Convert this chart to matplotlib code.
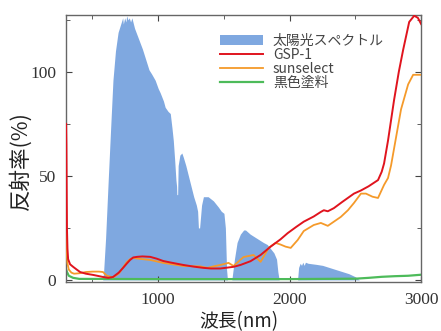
import matplotlib
matplotlib.use("Agg")
import matplotlib.pyplot as plt
from matplotlib.ticker import MultipleLocator

plt.rcParams["font.family"] = "serif"
plt.rcParams["font.serif"] = ["Liberation Serif", "DejaVu Serif"]

# Solar spectrum (scaled for display)
spec_wl = [300, 578, 585, 600, 620, 640, 656, 675, 695, 710, 720, 730, 735, 745, 755, 760, 770, 780, 790,
           800, 820, 850, 880, 905, 930, 950, 977, 1000, 1015, 1040, 1053, 1075, 1092, 1105, 1115, 1125,
           1135, 1140, 1142, 1148, 1152, 1165, 1180, 1191, 1210, 1230, 1250, 1270, 1290, 1300, 1306, 1315,
           1330, 1344, 1380, 1420, 1458, 1480, 1500, 1511, 1520, 1527, 1560, 1580, 1600, 1625, 1650, 1664,
           1700, 1750, 1800, 1830, 1855, 1880, 1900, 1910, 1920, 2060, 2068, 2080, 2090, 2100, 2110, 2120,
           2140, 2200, 2250, 2300, 2350, 2400, 2450, 2500, 2520, 2530, 3000]
spec_val = [0, 0, 4, 20, 48, 75, 96, 110, 119, 122, 124, 126, 123, 126, 124, 127, 125, 126, 124,
            126, 121, 116, 111, 106, 101, 99, 96, 92, 90, 86, 83, 81, 80, 73, 67, 58,
            48, 45, 41, 41, 55, 60, 61, 59, 55, 50, 45, 40, 36, 33, 25, 25,
            36, 40, 40, 38, 35, 33, 32, 25, 5, 0, 0, 10, 18, 22, 24, 24,
            22, 20, 18, 17, 15, 13, 10, 4, 0, 0, 6, 8, 7, 8.5, 7, 8.5,
            8, 7.5, 7, 6, 5, 4, 3, 1.5, 0.5, 0, 0]

# GSP-1
red_wl = [300, 302, 304, 306, 310, 315, 330, 353, 380, 406, 450, 506, 582, 620, 656, 700, 733, 760, 786,
          810, 840, 880, 939, 990, 1038, 1100, 1191, 1270, 1344, 1400, 1473, 1573, 1626, 1702, 1779,
          1855, 1930, 1985, 2050, 2107, 2183, 2237, 2260, 2290, 2336, 2400, 2489, 2542, 2600, 2672, 2700,
          2718, 2748, 2794, 2830, 2863, 2909, 2947, 2975, 3000]
red_val = [75, 65, 45, 25, 15, 10, 7.5, 6.3, 5, 3.8, 3, 2.4, 1.4, 1.0, 1.4, 3.5, 5.8, 7.8, 9.6,
           10.8, 11.1, 11.3, 11.1, 10.2, 9.1, 8.3, 7.2, 6.4, 5.8, 5.5, 5.5, 6.3, 7.2, 9, 12,
           16, 19.5, 22.5, 25.5, 28, 30.5, 32.7, 33.5, 33, 34.5, 37.5, 41.5, 43, 45, 48, 52,
           56, 67, 86.5, 100, 110.6, 124, 127, 126, 123]

# sunselect
org_wl = [300, 303, 306, 310, 320, 340, 360, 400, 450, 500, 550, 580, 610, 656, 700, 733, 760, 786, 810,
          840, 880, 939, 1038, 1191, 1321, 1374, 1420, 1473, 1535, 1573, 1649, 1725, 1779, 1840, 1893,
          1931, 1969, 2008, 2061, 2107, 2183, 2237, 2290, 2336, 2389, 2443, 2489, 2542, 2580, 2630, 2672,
          2718, 2748, 2771, 2847, 2901, 2939, 3000]
org_val = [35, 20, 12, 8, 5, 3.5, 3, 3.2, 3.8, 4, 4, 3.8, 2, 1.2, 3, 6, 8.5, 10, 10.6,
           10.3, 10.0, 9.6, 8.2, 6.7, 6.5, 5.8, 6.5, 7.2, 8.2, 6.7, 11, 12, 8.7, 15.4, 17.8,
           17, 16, 15.4, 19.2, 23.5, 26.4, 27.4, 26, 28, 30.3, 33.5, 37, 41.5, 41.5, 40, 39.4,
           45.7, 49, 55, 82, 94, 98.6, 98.6]

# black paint
grn_wl = [300, 305, 320, 353, 400, 1000, 2000, 2500, 2600, 2700, 2800, 2900, 3000]
grn_val = [5, 4, 2, 1, 0.5, 0.4, 0.4, 0.6, 1.0, 1.5, 1.8, 2.0, 2.5]

labels = ["太陽光スペクトル", "GSP-1", "sunselect", "黒色塗料"]
x_ticks = [1000, 2000, 3000]
y_ticks = [0, 50, 100]

fig = plt.figure(figsize=(4.41, 3.31), dpi=100)
ax = fig.add_axes([0.150, 0.148, 0.805, 0.807])

ax.fill_between(spec_wl, spec_val, 0, color="#7fa8e0", linewidth=0, label=labels[0], zorder=1)
ax.plot(grn_wl, grn_val, color="#4dbb5a", lw=1.6, label=labels[3], zorder=2)
ax.plot(org_wl, org_val, color="#f59a2a", lw=1.3, label=labels[2], zorder=3)
ax.plot(red_wl, red_val, color="#e0141e", lw=1.4, label=labels[1], zorder=4)

ax.set_xlim(300, 3000)
ax.set_ylim(-1, 127.4)
ax.set_xticks(x_ticks)
ax.set_yticks(y_ticks)
ax.xaxis.set_minor_locator(MultipleLocator(500))
ax.yaxis.set_minor_locator(MultipleLocator(25))
ax.tick_params(which="both", direction="in", top=True, right=True, color="#444444")
ax.tick_params(which="major", length=4, pad=7, labelsize=12.5, labelcolor="#333333")
ax.tick_params(which="minor", length=3)
for s in ax.spines.values():
    s.set_color("#666666")
    s.set_linewidth(1.0)

jp = ["Noto Sans CJK JP", "DejaVu Sans"]
ax.set_xlabel("波長(nm)", family=jp, fontsize=13.5, color="#222222")
ax.set_ylabel("反射率(%)", family=jp, fontsize=15.5, color="#222222")
ax.xaxis.set_label_coords(0.487, -0.108)
ax.yaxis.set_label_coords(-0.098, 0.455)

h, l = ax.get_legend_handles_labels()
hd = dict(zip(l, h))
leg = ax.legend([hd[k] for k in labels], labels, loc="upper left",
                bbox_to_anchor=(0.414, 0.955), frameon=False, borderpad=0,
                handlelength=3.1, handletextpad=0.7, labelspacing=0.0,
                prop={"family": jp, "size": 10})
for t in leg.get_texts():
    t.set_color("#444444")

fig.savefig("out.png", dpi=100)
